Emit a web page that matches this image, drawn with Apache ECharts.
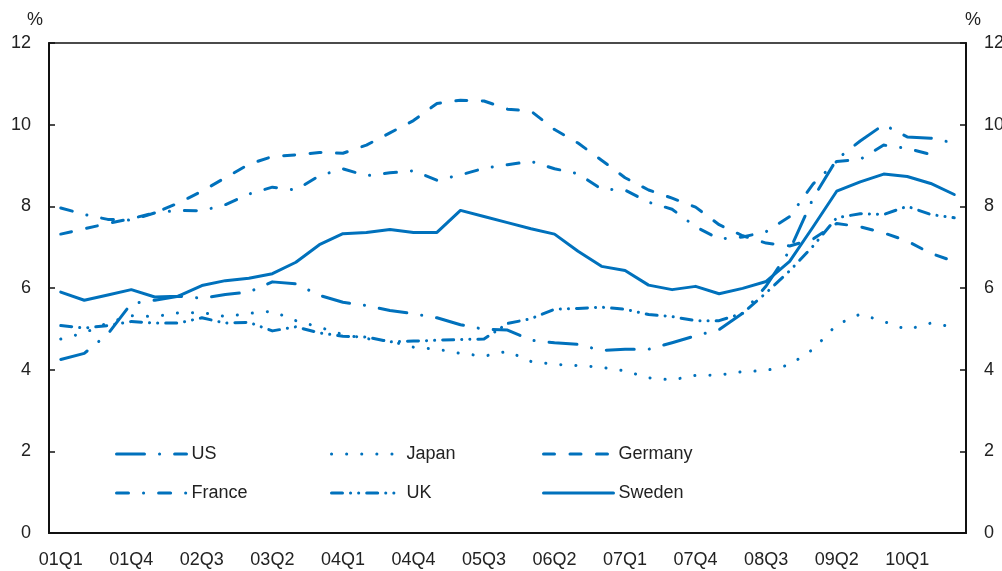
<!DOCTYPE html>
<html>
<head>
<meta charset="utf-8">
<script src="https://cdn.jsdelivr.net/npm/echarts@6/dist/echarts.min.js"></script>
<style>
html,body{margin:0;padding:0;background:#fff;}
#chart{width:1002px;height:571px;}
</style>
</head>
<body>
<div id="chart"></div>
<script>
// quarters 01Q1 .. 10Q3
var years = ['01','02','03','04','05','06','07','08','09','10'];
var quarters = [];
years.forEach(function(y){
	for(var q=1;q<=4;q++){ quarters.push(y+'Q'+q); }
});
quarters = quarters.slice(0,39);

var us      = [4.25,4.4,4.87,5.62,5.7,5.8,5.75,5.84,5.9,6.15,6.1,5.82,5.65,5.57,5.45,5.37,5.27,5.1,4.99,4.97,4.72,4.66,4.62,4.47,4.5,4.5,4.66,4.83,4.98,5.38,6.05,6.92,8.2,9.15,9.6,10.0,9.7,9.67,9.55];
var japan   = [4.75,4.9,5.15,5.32,5.3,5.39,5.4,5.3,5.38,5.43,5.2,5.04,4.86,4.76,4.7,4.55,4.5,4.4,4.33,4.45,4.2,4.13,4.1,4.06,3.97,3.8,3.75,3.86,3.87,3.95,3.98,4.12,4.5,5.1,5.36,5.18,4.98,5.14,5.04];
var germany = [7.32,7.45,7.58,7.7,7.84,8.08,8.37,8.7,9.03,9.22,9.26,9.32,9.3,9.5,9.8,10.1,10.52,10.6,10.58,10.38,10.33,9.88,9.55,9.13,8.7,8.4,8.2,7.98,7.55,7.28,7.1,7.03,7.2,7.58,7.5,7.35,7.15,6.85,6.65];
var france  = [7.96,7.8,7.68,7.66,7.84,7.9,7.89,8.04,8.3,8.47,8.4,8.75,8.92,8.75,8.82,8.87,8.64,8.77,8.93,9.02,9.1,8.92,8.8,8.42,8.4,8.1,7.93,7.5,7.2,7.25,7.38,7.75,8.55,9.1,9.15,9.5,9.42,9.27,null];
var uk      = [5.08,5.02,5.08,5.18,5.14,5.14,5.27,5.14,5.16,4.95,5.05,4.9,4.82,4.8,4.68,4.7,4.72,4.74,4.75,5.13,5.25,5.48,5.5,5.53,5.48,5.35,5.3,5.2,5.2,5.38,5.88,6.42,7.03,7.72,7.82,7.8,8.0,7.8,7.72];
var sweden  = [5.9,5.7,5.83,5.96,5.78,5.8,6.06,6.18,6.24,6.35,6.63,7.06,7.33,7.36,7.43,7.36,7.36,7.9,7.75,7.6,7.45,7.32,6.9,6.53,6.43,6.07,5.96,6.04,5.86,5.99,6.16,6.65,7.5,8.37,8.6,8.79,8.73,8.56,8.29];

var blue = '#0071bc';
var txt = '#222';
var font = '"Liberation Sans", Arial, sans-serif';

// dash patterns
var lines = [
	{name:'US',      data:us,      dash:[28,15,0.1,15]},
	{name:'Japan',   data:japan,   dash:[0.1,15]},
	{name:'Germany', data:germany, dash:[11,15.5]},
	{name:'France',  data:france,  dash:[12,15,0.1,15]},
	{name:'UK',      data:uk,      dash:[11,8,0.1,8,0.1,8]},
	{name:'Sweden',  data:sweden,  dash:'solid'}
];
// legend slots (left, top)
var legendPos = [[115,445],[330,445],[542,445],[115,484],[330,484],[542,484]];

var chart = echarts.init(document.getElementById('chart'));

var yAxisBase = {
	type:'value', min:0, max:12, interval:2,
	splitLine:{show:false},
	axisLine:{show:true,lineStyle:{color:'#111',width:2}},
	axisTick:{show:true,inside:true,length:6,lineStyle:{color:'#111',width:1.5}},
	axisLabel:{color:txt,fontSize:18,fontFamily:font,margin:18}
};

var option = {
	animation:false,
	backgroundColor:'#fff',
	textStyle:{fontFamily:font},
	grid:{left:49,right:36,top:43,bottom:38,show:true,borderColor:'#111',borderWidth:1.5,
		containLabel:false,outerBoundsMode:'none'},
	xAxis:{
		type:'category',
		data:quarters,
		boundaryGap:true,
		axisLine:{onZero:false,lineStyle:{color:'#111',width:2}},
		axisTick:{inside:true,length:6,interval:0,lineStyle:{color:'#111',width:1.5}},
		axisLabel:{interval:2,color:txt,fontSize:18,fontFamily:font,margin:18}
	},
	yAxis:[
		Object.assign({position:'left'},yAxisBase),
		Object.assign({position:'right'},yAxisBase)
	],
	legend:lines.map(function(l,i){
		return {
			data:[l.name],
			left:legendPos[i][0],
			top:legendPos[i][1],
			padding:0,
			itemWidth:70,
			itemHeight:14,
			itemGap:0,
			selectedMode:false,
			itemStyle:{color:'rgba(0,0,0,0)',borderColor:'rgba(0,0,0,0)',borderWidth:0,opacity:0},
			lineStyle:{width:3},
			textStyle:{color:txt,fontSize:18,fontFamily:font,padding:[0,0,0,0]}
		};
	}),
	graphic:[
		{type:'text',left:27,top:11,style:{text:'%',fontSize:18,fontFamily:font,fill:txt}},
		{type:'text',left:965,top:11,style:{text:'%',fontSize:18,fontFamily:font,fill:txt}}
	],
	series:lines.map(function(l){
		return {
			name:l.name,
			type:'line',
			data:l.data,
			symbol:'none',
			smooth:false,
			color:blue,
			lineStyle:{color:blue,width:3,type:l.dash,cap:'round',join:'round'}
		};
	})
};
chart.setOption(option);
</script>
</body>
</html>
